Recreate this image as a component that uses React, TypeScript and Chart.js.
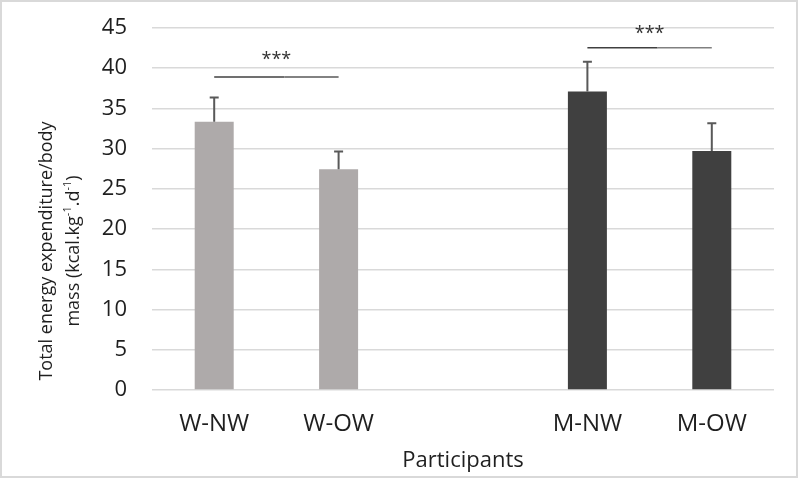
import React, { useEffect, useRef } from "react";
import { Chart, registerables } from "chart.js";

Chart.register(...registerables);

const categories = ["W-NW", "W-OW", "", "M-NW", "M-OW"];
const meanValues: (number | null)[] = [33.35, 27.45, null, 37.1, 29.7];
const sdValues: (number | null)[] = [3.0, 2.2, null, 3.7, 3.45];
const barColors = ["#aeaaaa", "#aeaaaa", "#aeaaaa", "#404040", "#404040"];

const sigFrom = [0, 3];
const sigTo = [1, 4];
const sigLineValue = [38.9, 42.55];
const sigStarValue = [41.65, 44.9];
const sigLabels = ["***", "***"];

const yTitleLine1 = "Total energy expenditure/body";
const yTitleLine2 = [
  { t: "mass (kcal.kg", sup: false },
  { t: "-1", sup: true },
  { t: ".d", sup: false },
  { t: "-1", sup: true },
  { t: ")", sup: false },
];
const xTitle = "Participants";

const FONT = "'Open Sans', 'Noto Sans', sans-serif";
const TEXT = "#1f1f1f";

const errorBarPlugin = {
  id: "errorBars",
  afterDatasetsDraw(chart: any) {
    const ctx = chart.ctx;
    const meta = chart.getDatasetMeta(0);
    const y = chart.scales.y;
    ctx.save();
    ctx.strokeStyle = "#595959";
    ctx.lineWidth = 2;
    meta.data.forEach((bar: any, i: number) => {
      const m = meanValues[i];
      const sd = sdValues[i];
      if (m == null || sd == null) return;
      const x = bar.x;
      const y0 = y.getPixelForValue(m);
      const y1 = y.getPixelForValue(m + sd);
      ctx.beginPath();
      ctx.moveTo(x, y0);
      ctx.lineTo(x, y1);
      ctx.moveTo(x - 4.5, y1);
      ctx.lineTo(x + 4.5, y1);
      ctx.stroke();
    });
    ctx.restore();
  },
};

const sigPlugin = {
  id: "significance",
  afterDraw(chart: any) {
    const ctx = chart.ctx;
    const xs = chart.scales.x;
    const ys = chart.scales.y;
    ctx.save();
    sigFrom.forEach((f, k) => {
      const x0 = xs.getPixelForValue(f);
      const x1 = xs.getPixelForValue(sigTo[k]);
      const yl = ys.getPixelForValue(sigLineValue[k]);
      const mid = (x0 + x1) / 2 + 8;
      ctx.lineWidth = 1.5;
      ctx.strokeStyle = "#404040";
      ctx.beginPath();
      ctx.moveTo(x0, yl);
      ctx.lineTo(mid, yl);
      ctx.stroke();
      ctx.strokeStyle = k === 1 ? "#808080" : "#595959";
      ctx.beginPath();
      ctx.moveTo(mid, yl);
      ctx.lineTo(x1, yl);
      ctx.stroke();
      const ys2 = ys.getPixelForValue(sigStarValue[k]);
      ctx.fillStyle = "#333333";
      ctx.font = `18px ${FONT}`;
      ctx.textAlign = "center";
      ctx.textBaseline = "alphabetic";
      ctx.fillText(sigLabels[k], (x0 + x1) / 2, ys2 + 10);
    });
    ctx.restore();
  },
};

const yTitlePlugin = {
  id: "yTitle",
  afterDraw(chart: any) {
    const ctx = chart.ctx;
    const ca = chart.chartArea;
    const cy = ca.bottom - 139;
    ctx.save();
    ctx.fillStyle = TEXT;
    ctx.translate(45, cy);
    ctx.rotate(-Math.PI / 2);
    ctx.textBaseline = "middle";
    ctx.textAlign = "center";
    ctx.font = `18px ${FONT}`;
    ctx.fillText(yTitleLine1, 0, 0);
    const big = `18px ${FONT}`;
    const small = `11px ${FONT}`;
    let total = 0;
    yTitleLine2.forEach((s) => {
      ctx.font = s.sup ? small : big;
      total += ctx.measureText(s.t).width;
    });
    let x = -total / 2;
    ctx.textAlign = "left";
    yTitleLine2.forEach((s) => {
      ctx.font = s.sup ? small : big;
      ctx.fillText(s.t, x, s.sup ? 27 - 6 : 27);
      x += ctx.measureText(s.t).width;
    });
    ctx.restore();
  },
};

export default function App() {
  const ref = useRef<HTMLCanvasElement | null>(null);
  useEffect(() => {
    document.body.style.margin = "0";
    const canvas = ref.current;
    if (!canvas) return;
    const chart = new Chart(canvas, {
      type: "bar",
      data: {
        labels: categories,
        datasets: [
          {
            data: meanValues as any,
            backgroundColor: barColors,
            borderWidth: 0,
            barPercentage: 1,
            categoryPercentage: 0.3135,
          },
        ],
      },
      options: {
        responsive: false,
        animation: false,
        devicePixelRatio: 1,
        layout: { padding: { top: 26, right: 22, left: 0, bottom: 0 } },
        plugins: {
          legend: { display: false },
          tooltip: { enabled: false },
          title: { display: false },
        },
        scales: {
          x: {
            grid: { display: false, drawTicks: false },
            border: { display: false },
            ticks: {
              color: TEXT,
              font: { family: FONT, size: 24 },
              padding: 20,
              maxRotation: 0,
            },
            title: {
              display: true,
              text: xTitle,
              color: TEXT,
              font: { family: FONT, size: 22 },
              padding: { top: 0, bottom: 2 },
            },
            afterFit(scale: any) {
              scale.height = 86;
              scale.paddingLeft = 0;
              scale.paddingRight = 0;
            },
          },
          y: {
            min: 0,
            max: 45,
            ticks: {
              stepSize: 5,
              color: TEXT,
              font: { family: FONT, size: 22 },
              padding: 25,
            },
            grid: { color: "#d9d9d9", lineWidth: 1.5, drawTicks: false },
            border: { display: false },
            afterFit(scale: any) {
              scale.width = 150;
              scale.paddingTop = 0;
              scale.paddingBottom = 0;
            },
          },
        },
      },
      plugins: [errorBarPlugin, sigPlugin, yTitlePlugin],
    });
    return () => chart.destroy();
  }, []);
  return (
    <div
      style={{
        position: "absolute",
        left: 0,
        top: 0,
        width: 798,
        height: 478,
        border: "2px solid #d9d9d9",
        boxSizing: "border-box",
        background: "#fff",
      }}
    >
      <canvas ref={ref} width={794} height={474} style={{ display: "block" }} />
    </div>
  );
}
